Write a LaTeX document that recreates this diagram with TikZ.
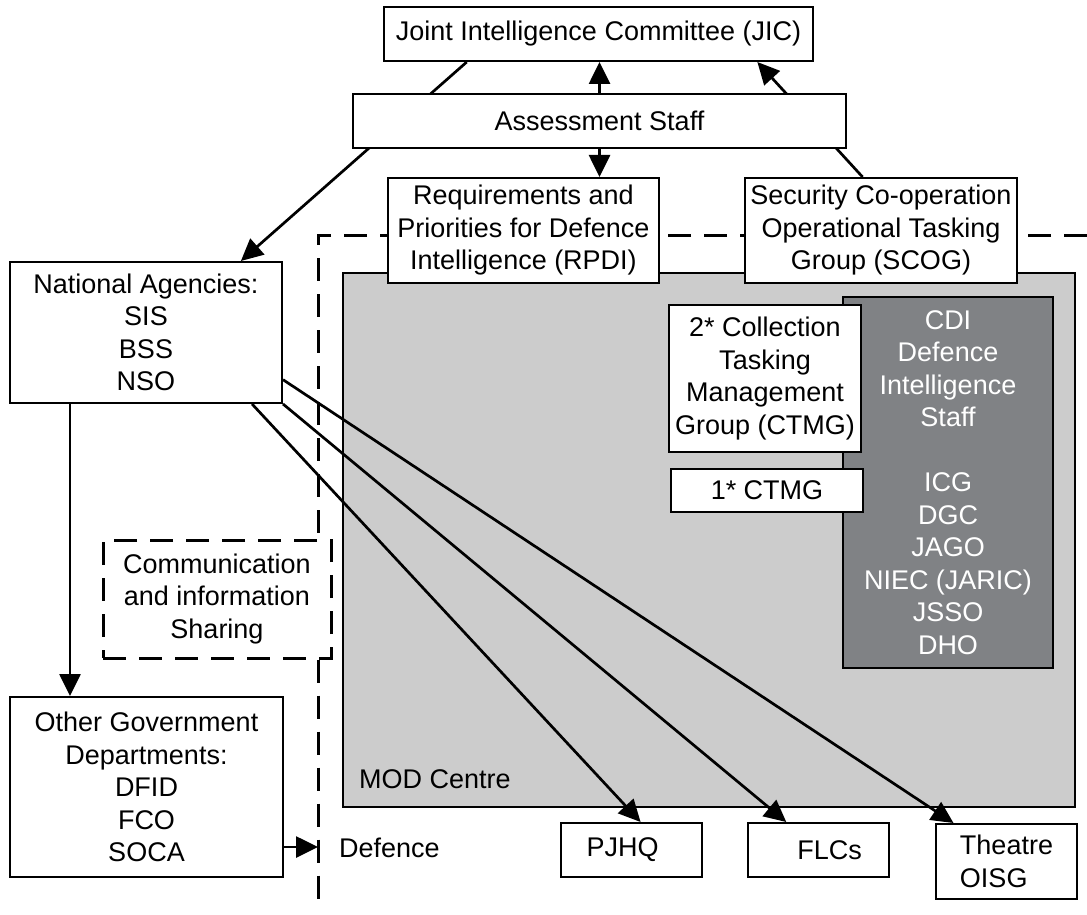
\documentclass[tikz,border=0pt]{standalone}
\usepackage{xcolor}
\usepackage{fontspec}
\setmainfont{Liberation Sans}
\usepackage{tikz}
\usetikzlibrary{arrows.meta,calc}
\definecolor{modgray}{RGB}{204,204,204}
\definecolor{cdigray}{RGB}{128,130,133}

\begin{document}
\begin{tikzpicture}[x=1pt,y=-1pt,
    every node/.style={font=\fontsize{27}{32.5}\selectfont},
    box/.style={draw, fill=white, line width=2pt, align=center, inner sep=0pt},
    conn/.style={line width=2.7pt, -{Triangle[length=22pt,width=21pt]}},
    boundary/.style={line width=3pt, dash pattern=on 23pt off 13pt}]
    \useasboundingbox (0,0) rectangle (1087,915);
    \node[box, fill=modgray, minimum width=732pt, minimum height=534pt] (mod) at (709,540) {};
    \node[anchor=base west, inner sep=0pt] (modlabel) at (359,788) {MOD Centre};
    \node[box, boundary, fill=none, minimum width=228pt, minimum height=118pt] (comms) at (217,599) {Communication\\and information\\Sharing};
    \coordinate (dright) at (1087,235);
    \coordinate (dcorner) at (318,235);
    \coordinate (dbot) at (318,907);
    \coordinate (dcross) at (318,847);
    \draw[boundary] (dright) -- (dcorner) -- (dcorner |- comms.north);
    \draw[boundary] (dcorner |- comms.south) -- (dbot);
    \node[box, minimum width=429pt, minimum height=54pt] (jic) at (598.5,34) {Joint Intelligence Committee (JIC)};
    \node[box, minimum width=272pt, minimum height=141pt] (na) at (146,332.5) {National Agencies:\\SIS\\BSS\\NSO};
    \node[box, minimum width=273pt, minimum height=180pt] (ogd) at (146.5,787) {Other Government\\Departments:\\DFID\\FCO\\SOCA};
    \node[box, minimum width=271pt, minimum height=105pt] (rpdi) at (523.5,230.5) {Requirements and\\Priorities for Defence\\Intelligence (RPDI)};
    \node[box, minimum width=272pt, minimum height=105pt] (scog) at (881,230.5) {Security Co-operation\\Operational Tasking\\Group (SCOG)};
    \draw[conn] (jic.192) -- (na.37);
    \draw[conn] (scog.109) -- (jic.-10);
    \node[box, minimum width=493pt, minimum height=54pt] (assess) at (599.5,121) {Assessment Staff};
    \draw[conn] (assess.north) -- (assess.north |- jic.south);
    \draw[conn] (assess.south) -- (assess.south |- rpdi.north);
    \node[box, fill=cdigray, text=white, minimum width=210pt, minimum height=371pt] (cdi) at (948,482.5) {CDI\\Defence\\Intelligence\\Staff\\[32.5pt]ICG\\DGC\\JAGO\\NIEC (JARIC)\\JSSO\\DHO};
    \node[box, minimum width=192pt, minimum height=147pt] (ctmgtwo) at (765,378.5) {2* Collection\\Tasking\\Management\\Group (CTMG)};
    \node[box, minimum width=192pt, minimum height=43pt] (ctmgone) at (767,490.5) {1* CTMG};
    \node[box, minimum width=141pt, minimum height=54pt] (pjhq) at (631.5,850) {PJHQ\hspace*{18pt}};
    \node[box, minimum width=141pt, minimum height=54pt] (flcs) at (818.5,850) {\hspace*{22pt}FLCs};
    \node[box, align=left, minimum width=141pt, minimum height=75pt] (theatre) at (1006.5,861.5) {Theatre\\OISG};
    \draw[conn] (na.-34.4) -- (pjhq.72.5);
    \draw[conn] (na.south east) -- (flcs.139);
    \draw[conn] (na.-19.6) -- (theatre.144);
    \draw[conn] ([xshift=-76pt]na.south) -- ([xshift=-76pt]na.south |- ogd.north);
    \draw[conn] (ogd.east |- dcross) -- (dcross);
    \node[anchor=base west, inner sep=0pt] (defence) at (339,857) {Defence};
\end{tikzpicture}
\end{document}
